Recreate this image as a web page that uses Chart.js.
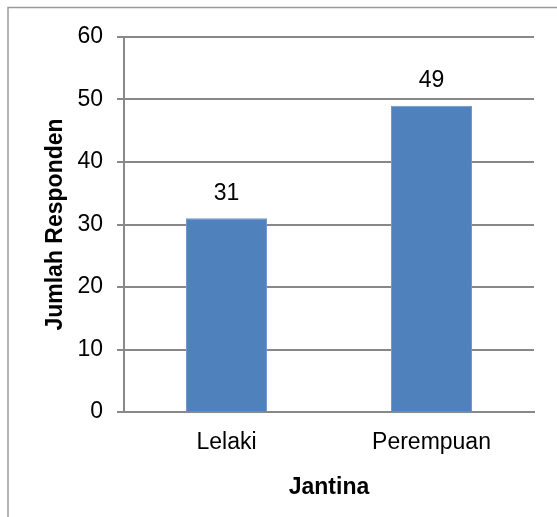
<!DOCTYPE html>
<html>
<head>
<meta charset="utf-8">
<script src="https://cdn.jsdelivr.net/npm/chart.js@4/dist/chart.umd.min.js"></script>
<style>
  html, body { margin: 0; padding: 0; background: #ffffff; }
  #wrap { width: 557px; height: 517px; position: relative; }
</style>
</head>
<body>
<div id="wrap"><canvas id="chart" width="557" height="517"></canvas></div>
<script>
// Respondents by gender
const categories = ['Lelaki', 'Perempuan'];
const respondents = [31, 49];
const yTicks = [0, 10, 20, 30, 40, 50, 60];
const xTitle = 'Jantina';
const yTitle = 'Jumlah Responden';

const FONT = '"Liberation Sans", Arial, Helvetica, sans-serif';
const GRID = '#888888';

// Thin frame along the left and top edges of the figure
const framePlugin = {
  id: 'frame',
  beforeDraw(chart) {
    const ctx = chart.ctx;
    ctx.save();
    ctx.strokeStyle = '#9a9a9a';
    ctx.lineWidth = 1.5;
    ctx.beginPath();
    ctx.moveTo(8, chart.height);
    ctx.lineTo(8, 7.5);
    ctx.lineTo(chart.width, 7.5);
    ctx.stroke();
    ctx.restore();
  }
};

// Value printed above each bar
const valueLabels = {
  id: 'valueLabels',
  afterDatasetsDraw(chart) {
    const ctx = chart.ctx;
    const meta = chart.getDatasetMeta(0);
    ctx.save();
    ctx.font = '23px ' + FONT;
    ctx.fillStyle = '#000000';
    ctx.textAlign = 'center';
    ctx.textBaseline = 'middle';
    meta.data.forEach((bar, i) => {
      ctx.fillText(String(respondents[i]), bar.x, bar.y - 25);
    });
    ctx.restore();
  }
};

new Chart(document.getElementById('chart'), {
  type: 'bar',
  data: {
    labels: categories,
    datasets: [{
      data: respondents,
      backgroundColor: '#4F81BD',
      borderColor: '#6f98cc',
      borderWidth: 1,
      categoryPercentage: 1,
      barPercentage: 0.395
    }]
  },
  options: {
    responsive: false,
    devicePixelRatio: 1,
    animation: false,
    layout: { padding: { left: 0, right: 23, top: 37, bottom: 0 } },
    plugins: {
      legend: { display: false },
      tooltip: { enabled: false }
    },
    scales: {
      x: {
        grid: { display: false, drawTicks: false, tickLength: 0 },
        border: { display: true, color: GRID, width: 2 },
        ticks: { color: '#000000', font: { family: FONT, size: 23 }, padding: 17 },
        title: {
          display: true, text: xTitle, color: '#000000',
          font: { family: FONT, size: 23, weight: 'bold' },
          padding: { top: 0, bottom: 16 }
        },
        afterFit(scale) { scale.height = 105; }
      },
      y: {
        min: 0,
        max: 60,
        afterBuildTicks(scale) { scale.ticks = yTicks.map(v => ({ value: v })); },
        grid: { color: GRID, lineWidth: 2, tickLength: 7, drawTicks: true },
        border: { display: true, color: GRID, width: 2 },
        ticks: { color: '#000000', font: { family: FONT, size: 23 }, padding: 14 },
        title: {
          display: true, text: yTitle, color: '#000000',
          font: { family: FONT, size: 23, weight: 'bold' },
          padding: { top: 42, bottom: 0 }
        },
        afterFit(scale) { scale.width = 124; }
      }
    }
  },
  plugins: [framePlugin, valueLabels]
});
</script>
</body>
</html>
